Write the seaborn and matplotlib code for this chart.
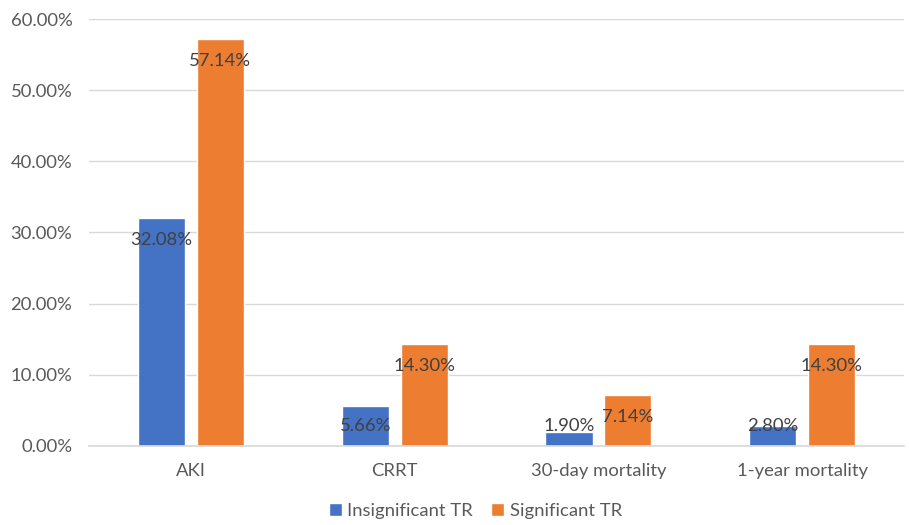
import pandas as pd
import matplotlib
matplotlib.use("Agg")
import matplotlib.pyplot as plt
import matplotlib.ticker as mticker
import seaborn as sns

categories = ["AKI", "CRRT", "30-day mortality", "1-year mortality"]
insignificant_tr = [32.08, 5.66, 1.90, 2.80]
significant_tr = [57.14, 14.30, 7.14, 14.30]
series_names = ["Insignificant TR", "Significant TR"]

COLOURS = {"Insignificant TR": "#4472C4", "Significant TR": "#ED7D31"}
TEXT = "#595959"
FS = 13.3

df = pd.DataFrame({
    "outcome": categories * 2,
    "group": [series_names[0]] * 4 + [series_names[1]] * 4,
    "pct": insignificant_tr + significant_tr,
})

sns.set_theme(style="white")
plt.rcParams["font.family"] = ["Lato", "DejaVu Sans"]

fig = plt.figure(figsize=(9.09, 5.25), dpi=100)
ax = fig.add_axes([0.098, 0.1505, 0.8965, 0.8133])

sns.barplot(data=df, x="outcome", y="pct", hue="group", order=categories,
            hue_order=series_names, palette=COLOURS, width=0.578, gap=0.2,
            ax=ax, legend=True, saturation=1)

# data labels, Excel style: just inside the bar end, never below the floor
for cont in ax.containers:
    for bar in cont:
        h = bar.get_height()
        y = max(h - 3.1, 2.8)
        ax.text(bar.get_x() + bar.get_width() / 2, y, f"{h:.2f}%",
                ha="center", va="center", fontsize=FS, color="#404040")

ax.set_ylim(0, 60)
ax.set_xlim(-0.5, 3.5)
ax.yaxis.set_major_locator(mticker.MultipleLocator(10))
ax.yaxis.set_major_formatter(mticker.FuncFormatter(lambda v, _: f"{v:.2f}%"))
ax.grid(axis="y", color="#D9D9D9", linewidth=1)
ax.set_axisbelow(True)
for s in ["top", "right", "left"]:
    ax.spines[s].set_visible(False)
ax.spines["bottom"].set_color("#D9D9D9")
ax.tick_params(axis="both", length=0, labelsize=FS, colors=TEXT)
ax.tick_params(axis="x", pad=12)
ax.tick_params(axis="y", pad=12)
ax.set_xlabel("")
ax.set_ylabel("")

handles, labels = ax.get_legend_handles_labels()
ax.legend(handles, labels, loc="lower center", bbox_to_anchor=(0.474, -0.21),
          ncol=2, frameon=False, fontsize=FS, handlelength=0.7, handleheight=0.7,
          handletextpad=0.3, columnspacing=1.0, labelcolor=TEXT)

fig.savefig("out.png", dpi=100)
